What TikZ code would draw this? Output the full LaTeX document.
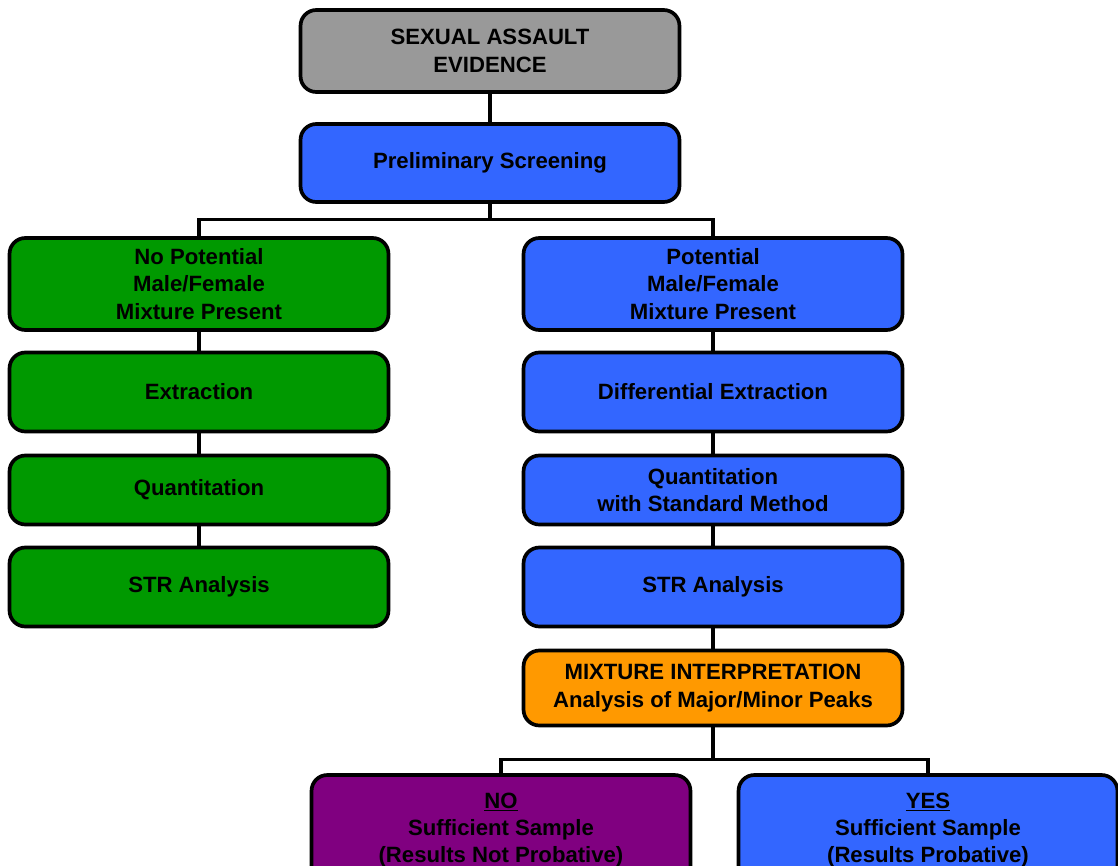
\documentclass[tikz,border=0pt]{standalone}
\usepackage{fontspec}
\setmainfont{Liberation Sans}
\usetikzlibrary{positioning}

\definecolor{boxgray}{HTML}{999999}
\definecolor{boxblue}{HTML}{3366FF}
\definecolor{boxgreen}{HTML}{009900}
\definecolor{boxorange}{HTML}{FF9900}
\definecolor{boxpurple}{HTML}{800080}

\tikzset{
  stage/.style={draw=black, line width=2.1pt, rounded corners=9pt,
    minimum width=7.58cm, align=center,
    font=\fontsize{12.6}{15.6}\selectfont\bfseries},
  link/.style={line width=1.8pt}
}

\begin{document}
\begin{tikzpicture}[x=0.02cm, y=-0.02cm]
	\clip (0,0) rectangle (1118,865);
	\useasboundingbox (0,0) rectangle (1118,865);

	% top of the chart
	\node[stage, fill=boxgray, minimum height=1.64cm] (evidence) at (490,51) {SEXUAL ASSAULT\\EVIDENCE};
	\node[stage, fill=boxblue, minimum height=1.56cm] (screen) at (490,163) {Preliminary Screening};

	% left branch
	\node[stage, fill=boxgreen, minimum height=1.84cm] (nomix) at (199,284) {No Potential\\Male/Female\\Mixture Present};
	\node[stage, fill=boxgreen, minimum height=1.58cm] (extract) at (199,392) {Extraction};
	\node[stage, fill=boxgreen, minimum height=1.38cm] (quantL) at (199,490) {Quantitation};
	\node[stage, fill=boxgreen, minimum height=1.58cm] (strL) at (199,587) {STR Analysis};

	% right branch
	\node[stage, fill=boxblue, minimum height=1.84cm] (mix) at (713,284) {Potential\\Male/Female\\Mixture Present};
	\node[stage, fill=boxblue, minimum height=1.58cm] (diffext) at (713,392) {Differential Extraction};
	\node[stage, fill=boxblue, minimum height=1.38cm] (quantR) at (713,490) {Quantitation\\with Standard Method};
	\node[stage, fill=boxblue, minimum height=1.58cm] (strR) at (713,587) {STR Analysis};
	\node[stage, fill=boxorange, minimum height=1.50cm] (interp) at (713,688) {MIXTURE INTERPRETATION\\Analysis of Major/Minor Peaks};

	% outcomes
	\node[stage, fill=boxpurple, minimum height=2.2cm] (no) at (501,830) {\underline{NO}\\Sufficient Sample\\(Results Not Probative)};
	\node[stage, fill=boxblue, minimum height=2.2cm] (yes) at (928,830) {\underline{YES}\\Sufficient Sample\\(Results Probative)};

	\draw[link] (evidence) -- (screen);
	\draw[link] (screen.south) -- ++(0,16) -| (nomix.north);
	\draw[link] (screen.south) -- ++(0,16) -| (mix.north);

	\draw[link] (nomix) -- (extract);
	\draw[link] (extract) -- (quantL);
	\draw[link] (quantL) -- (strL);

	\draw[link] (mix) -- (diffext);
	\draw[link] (diffext) -- (quantR);
	\draw[link] (quantR) -- (strR);
	\draw[link] (strR) -- (interp);

	\draw[link] (interp.south) -- ++(0,32) -| (no.north);
	\draw[link] (interp.south) -- ++(0,32) -| (yes.north);
\end{tikzpicture}
\end{document}
